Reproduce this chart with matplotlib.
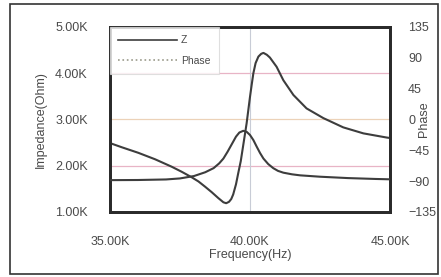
import matplotlib.pyplot as plt
from matplotlib.lines import Line2D
from matplotlib.patches import Rectangle
from matplotlib.ticker import FuncFormatter

plt.rcParams['font.family'] = ['Liberation Sans', 'DejaVu Sans']
plt.rcParams['axes.grid'] = False

# impedance curve (Hz, Ohm)
z_freq = [35000, 35420, 36010, 36610, 37200, 37560, 37920, 38160, 38390,
          38630, 38870, 39050, 39150, 39250, 39330, 39400, 39500, 39580,
          39670, 39760, 39880, 40000, 40060, 40120, 40200, 40300, 40400,
          40480, 40600, 40710, 40950, 41190, 41550, 42020, 42620, 43330,
          44050, 44880, 45000]
z_ohm = [2490, 2400, 2280, 2140, 1980, 1870, 1750, 1660, 1550,
         1430, 1300, 1210, 1190, 1220, 1280, 1380, 1600, 1840,
         2100, 2450, 2920, 3490, 3750, 4000, 4220, 4360, 4420,
         4440, 4400, 4340, 4140, 3850, 3530, 3240, 3030, 2830,
         2700, 2610, 2600]

# phase curve (Hz, degrees)
ph_freq = [35000, 36000, 37000, 37500, 38000, 38400, 38700, 38900, 39050,
           39200, 39350, 39500, 39620, 39760, 39880, 40000, 40120, 40240,
           40360, 40480, 40650, 40830, 41000, 41190, 41500, 41790, 42500,
           43500, 44500, 45000]
ph_deg = [-88.5, -88.3, -87.5, -86, -82.5, -77, -71, -64, -57,
          -47, -36, -25, -19, -16.5, -18, -22.6, -30, -39.7,
          -49, -57, -65, -71, -75, -77.6, -80, -81.5, -83.5,
          -85.5, -86.8, -87.3]

x_ticks = [35000, 40000, 45000]
z_ticks = [1000, 2000, 3000, 4000, 5000]
ph_ticks = [-135, -90, -45, 0, 45, 90, 135]

line_col = '#3d3d3d'
text_col = '#4a4a4a'

fig = plt.figure(figsize=(4.41, 2.77), dpi=100)
fig.add_artist(Rectangle((10 / 441, 3 / 277), 428 / 441, 270 / 277,
                         transform=fig.transFigure, fill=False,
                         edgecolor='#333333', linewidth=1.2))

ax = fig.add_axes([110 / 441, 65 / 277, 280 / 441, 185 / 277])
ax2 = ax.twinx()

ax.plot(z_freq, z_ohm, color=line_col, linewidth=1.5, zorder=3)
ax2.plot(ph_freq, ph_deg, color=line_col, linewidth=1.5, zorder=3)

ax.set_xlim(35000, 45000)
ax.set_ylim(1000, 5000)
ax2.set_ylim(-135, 135)

ax.set_xticks(x_ticks)
ax.set_yticks(z_ticks)
ax2.set_yticks(ph_ticks)
fmt = FuncFormatter(lambda v, p: '%.2fK' % (v / 1000))
ax.xaxis.set_major_formatter(fmt)
ax.yaxis.set_major_formatter(fmt)

# faint grid
for g, c in [(2000, '#e8b4c6'), (3000, '#ecd2b8'), (4000, '#e8b4c6')]:
    ax.axhline(g, color=c, linewidth=0.9, zorder=1)
ax.axvline(40000, color='#c8ccd6', linewidth=0.8, zorder=1)

ax.tick_params(axis='both', length=0, labelsize=9, labelcolor=text_col)
ax.tick_params(axis='x', pad=17)
ax.tick_params(axis='y', pad=16)
ax2.tick_params(axis='y', length=0, labelsize=9, labelcolor=text_col, pad=13)

for a in (ax, ax2):
    for s in a.spines.values():
        s.set_linewidth(2)
        s.set_color('#2a2a2a')

ax.set_xlabel('Frequency(Hz)', fontsize=9, color=text_col, labelpad=1)
ax.set_ylabel('Impedance(Ohm)', fontsize=9, color=text_col, labelpad=6)
ax2.set_ylabel('Phase', fontsize=9, color=text_col, labelpad=-13)

handles = [Line2D([], [], color=line_col, linewidth=1.2, linestyle='-'),
           Line2D([], [], color='#9a9a8a', linewidth=1.2, linestyle=':')]
leg = ax2.legend(handles, ['Z', 'Phase'], loc='upper left', fontsize=7.5,
                 frameon=True, fancybox=False, handlelength=5.6,
                 handletextpad=0.4, borderaxespad=0, borderpad=0.8,
                 labelspacing=1.0)
leg.get_frame().set_edgecolor('#d8d8d8')
leg.get_frame().set_linewidth(0.8)
for t in leg.get_texts():
    t.set_color(text_col)

fig.savefig('out.png', dpi=100)
